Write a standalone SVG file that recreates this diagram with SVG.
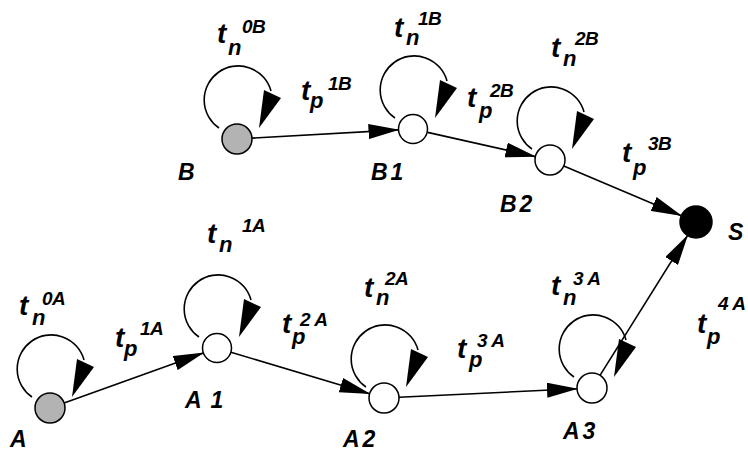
<svg xmlns="http://www.w3.org/2000/svg" width="748" height="453" viewBox="0 0 748 453">
<style>
text{font-family:"Liberation Sans",Arial,sans-serif;font-weight:bold;font-style:italic;fill:#000}
.t{font-size:28px}
.s{font-size:22px}
.u{font-size:19px;letter-spacing:-0.5px}
.lbl{font-size:23px;letter-spacing:3px}
.edge{stroke:#000;stroke-width:1.6;fill:none}
.loop{stroke:#000;stroke-width:1.6;fill:none}
.node{stroke:#000;stroke-width:1.5}
.open{fill:#fff}
.init{fill:#b3b3b3}
.sink{fill:#000}
</style>
<defs>
<marker id="ah" markerUnits="userSpaceOnUse" markerWidth="31" markerHeight="15" viewBox="0 0 31 15" refX="30" refY="7.5" orient="auto">
<path d="M0,0 L31,7.5 L0,15 z" fill="#000"/>
</marker>
<g id="selfloop">
<path class="loop" d="M-18,-11 A34,34 0 1 1 34,-48"/>
<polygon points="27,-49 44,-41 22,-11" fill="#000"/>
</g>
</defs>
<rect width="748" height="453" fill="#fff"/>

<g id="connectors">
<line class="edge" x1="64.1" y1="402.9" x2="203.4" y2="352.9" marker-end="url(#ah)"/>
<line class="edge" x1="230.9" y1="352.2" x2="369.6" y2="393.7" marker-end="url(#ah)"/>
<line class="edge" x1="399" y1="397.3" x2="577" y2="388.7" marker-end="url(#ah)"/>
<line class="edge" x1="600" y1="375.3" x2="687.5" y2="235.6" marker-end="url(#ah)"/>
<line class="edge" x1="252" y1="138.1" x2="398.5" y2="129.9" marker-end="url(#ah)"/>
<line class="edge" x1="427.6" y1="132.4" x2="535.4" y2="156.6" marker-end="url(#ah)"/>
<line class="edge" x1="563.8" y1="165.9" x2="681.3" y2="215.7" marker-end="url(#ah)"/>
<use href="#selfloop" transform="translate(50,408)"/>
<use href="#selfloop" transform="translate(217,348)"/>
<use href="#selfloop" transform="translate(384,398)"/>
<use href="#selfloop" transform="translate(592,388)"/>
<use href="#selfloop" transform="translate(237,139)"/>
<use href="#selfloop" transform="translate(413,129)"/>
<use href="#selfloop" transform="translate(550,160)"/>
</g>

<g id="node-A"><circle class="node init" cx="50" cy="408" r="15"/><text class="lbl" x="10" y="447">A</text></g>
<g id="node-A1"><circle class="node open" cx="217" cy="348" r="14.5"/><text class="lbl" x="185" y="408" style="letter-spacing:9px">A1</text></g>
<g id="node-A2"><circle class="node open" cx="384" cy="398" r="15"/><text class="lbl" x="343" y="447">A2</text></g>
<g id="node-A3"><circle class="node open" cx="592" cy="388" r="15"/><text class="lbl" x="563" y="439">A3</text></g>
<g id="node-B"><circle class="node init" cx="237" cy="139" r="15"/><text class="lbl" x="178" y="180">B</text></g>
<g id="node-B1"><circle class="node open" cx="413" cy="129" r="14.5"/><text class="lbl" x="371" y="180">B1</text></g>
<g id="node-B2"><circle class="node open" cx="550" cy="160" r="15"/><text class="lbl" x="500" y="212">B2</text></g>
<g id="node-S"><circle class="node sink" cx="696" cy="222" r="16"/><text class="lbl" x="728" y="240">S</text></g>

<g id="labels">
<text class="t" x="19" y="315">t</text><text class="s" x="32" y="325">n</text><text class="u" x="42" y="305">0A</text>
<text class="t" x="115" y="347">t</text><text class="s" x="124" y="356">p</text><text class="u" x="140" y="335">1A</text>
<text class="t" x="207" y="243">t</text><text class="s" x="219" y="252">n</text><text class="u" x="242" y="232">1A</text>
<text class="t" x="282" y="333">t</text><text class="s" x="292" y="344">p</text><text class="u" x="300" y="326">2 A</text>
<text class="t" x="364" y="297">t</text><text class="s" x="376" y="305">n</text><text class="u" x="385" y="285">2A</text>
<text class="t" x="457" y="358">t</text><text class="s" x="469" y="367">p</text><text class="u" x="477" y="347">3 A</text>
<text class="t" x="551" y="295">t</text><text class="s" x="563" y="305">n</text><text class="u" x="573" y="285">3 A</text>
<text class="t" x="697" y="333">t</text><text class="s" x="707" y="344">p</text><text class="u" x="718" y="310">4 A</text>
<text class="t" x="217" y="43">t</text><text class="s" x="228" y="55">n</text><text class="u" x="242" y="33">0B</text>
<text class="t" x="301" y="100">t</text><text class="s" x="310" y="108">p</text><text class="u" x="328" y="90">1B</text>
<text class="t" x="394" y="37">t</text><text class="s" x="406" y="45">n</text><text class="u" x="418" y="25">1B</text>
<text class="t" x="467" y="107">t</text><text class="s" x="479" y="118">p</text><text class="u" x="490" y="97">2B</text>
<text class="t" x="622" y="162">t</text><text class="s" x="633" y="175">p</text><text class="u" x="648" y="150">3B</text>
<text class="t" x="551" y="57">t</text><text class="s" x="563" y="66">n</text><text class="u" x="575" y="45">2B</text>
</g>
</svg>
